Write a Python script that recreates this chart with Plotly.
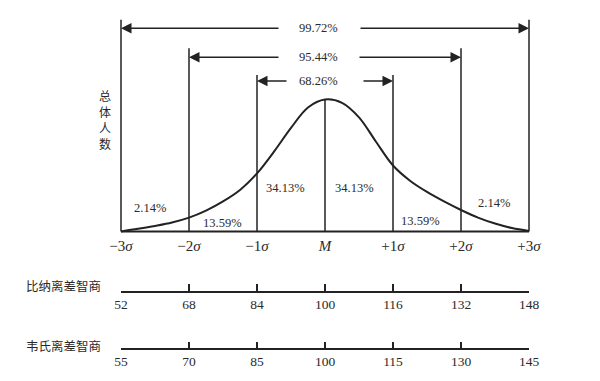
import plotly.graph_objects as go

# ---------------- data ----------------
sigma_ticks = [-3, -2, -1, 0, 1, 2, 3]
sigma_labels = ["−3<i>σ</i>", "−2<i>σ</i>", "−1<i>σ</i>", "<i>M</i>", "+1<i>σ</i>", "+2<i>σ</i>", "+3<i>σ</i>"]

# curve (x in σ, y = relative height, peak = 1)
curve_x = [-3.0, -2.75, -2.5, -2.25, -2.0, -1.75, -1.5, -1.25, -1.0, -0.75, -0.5, -0.25, 0.0,
           0.25, 0.5, 0.75, 1.0, 1.25, 1.5, 1.75, 2.0, 2.25, 2.5, 2.75, 3.0]
curve_y = [0.0, 0.02, 0.042, 0.068, 0.105, 0.158, 0.228, 0.315, 0.44, 0.605, 0.785, 0.94, 1.0,
           0.975, 0.865, 0.68, 0.50, 0.385, 0.30, 0.228, 0.163, 0.105, 0.06, 0.026, 0.004]

bracket_levels = [1, 2, 3]
bracket_labels = ["68.26%", "95.44%", "99.72%"]
bracket_line_top = [1.186, 1.388, 1.605]
bracket_arrow_y = [1.140, 1.320, 1.539]

area_labels = ["2.14%", "13.59%", "34.13%", "34.13%", "13.59%", "2.14%"]
area_label_x = [-2.57, -1.507, -0.574, 0.441, 1.41, 2.48]
area_label_y = [0.178, 0.062, 0.327, 0.327, 0.082, 0.218]

binet_name = "比纳离差智商"
binet_ticks = [52, 68, 84, 100, 116, 132, 148]
wechsler_name = "韦氏离差智商"
wechsler_ticks = [55, 70, 85, 100, 115, 130, 145]
y_title = "总体人数"

# ---------------- layout constants ----------------
W, H = 600, 381
PX_PER_SIGMA = 68.0
CENTER_PX = 325.0
BASE_PX = 231.5
UNIT_PX = 132.0
INK = "#222222"
TXT = "#2a2a2a"
SERIF = "Liberation Serif, Times New Roman, serif"
CJK = "Noto Sans CJK SC"

def px_to_sigma(px):
    return (px - CENTER_PX) / PX_PER_SIGMA

fig = go.Figure()

# baseline
fig.add_trace(go.Scatter(x=[sigma_ticks[0], sigma_ticks[-1]], y=[0, 0], mode="lines",
                         line=dict(color=INK, width=1.8), hoverinfo="skip", showlegend=False))

# vertical lines
vx, vy = [], []
for lvl, top in zip(bracket_levels, bracket_line_top):
    for s in (-lvl, lvl):
        vx += [s, s, None]
        vy += [0, top, None]
vx += [0, 0, None]
vy += [0, max(curve_y), None]
fig.add_trace(go.Scatter(x=vx, y=vy, mode="lines", line=dict(color=INK, width=1.5),
                         hoverinfo="skip", showlegend=False))

# curve
fig.add_trace(go.Scatter(x=curve_x, y=curve_y, mode="lines",
                         line=dict(color=INK, width=2, shape="spline", smoothing=1.0),
                         hoverinfo="skip", showlegend=False))

# hidden traces for IQ axes
fig.add_trace(go.Scatter(x=binet_ticks, y=[0] * len(binet_ticks), xaxis="x2", yaxis="y",
                         mode="markers", marker=dict(opacity=0), hoverinfo="skip", showlegend=False))
fig.add_trace(go.Scatter(x=wechsler_ticks, y=[0] * len(wechsler_ticks), xaxis="x3", yaxis="y",
                         mode="markers", marker=dict(opacity=0), hoverinfo="skip", showlegend=False))

annotations = []
label_center = px_to_sigma(318)
gap_half = {1: (30, 44), 2: (38, 40), 3: (38, 41)}
for lvl, lab, ay in zip(bracket_levels, bracket_labels, bracket_arrow_y):
    gl, gr = gap_half[lvl]
    left_tail = px_to_sigma(318 - gl)
    right_tail = px_to_sigma(318 + gr)
    annotations.append(dict(x=-lvl, y=ay, ax=left_tail, ay=ay, axref="x", ayref="y",
                            xref="x", yref="y", text="", showarrow=True, arrowhead=2,
                            arrowsize=1.4, arrowwidth=1.5, arrowcolor=INK, standoff=0))
    annotations.append(dict(x=lvl, y=ay, ax=right_tail, ay=ay, axref="x", ayref="y",
                            xref="x", yref="y", text="", showarrow=True, arrowhead=2,
                            arrowsize=1.4, arrowwidth=1.5, arrowcolor=INK, standoff=0))
    annotations.append(dict(x=label_center, y=ay, xref="x", yref="y", text=lab, showarrow=False,
                            font=dict(family=SERIF, size=12.5, color=TXT)))

for lab, x, y in zip(area_labels, area_label_x, area_label_y):
    annotations.append(dict(x=x, y=y, xref="x", yref="y", text=lab, showarrow=False,
                            font=dict(family=SERIF, size=12.5, color=TXT)))

# vertical axis title, one character per row
for i, ch in enumerate(y_title):
    annotations.append(dict(x=105 / W, y=(H - (95 + 16.2 * i)) / H, xref="paper", yref="paper",
                            xanchor="center", yanchor="middle", text=ch, showarrow=False,
                            font=dict(family=CJK, size=12, color=TXT)))
annotations.append(dict(x=24 / W, y=(H - 285) / H, xref="paper", yref="paper", xanchor="left",
                        yanchor="middle", text=binet_name, showarrow=False,
                        font=dict(family=CJK, size=12.5, color=TXT)))
annotations.append(dict(x=24 / W, y=(H - 345) / H, xref="paper", yref="paper", xanchor="left",
                        yanchor="middle", text=wechsler_name, showarrow=False,
                        font=dict(family=CJK, size=12.5, color=TXT)))

dom = [121 / W, 529 / W]
iq_axis_common = dict(domain=dom, anchor="free", showgrid=False, zeroline=False, showline=True,
                      linecolor=INK, linewidth=1.5, ticks="inside", ticklen=7, tickwidth=1.5,
                      tickcolor=INK, tickfont=dict(family=SERIF, size=13.5, color=TXT),
                      fixedrange=True, automargin=False)

fig.update_layout(
    width=W, height=H, margin=dict(l=0, r=0, t=0, b=0, pad=0),
    paper_bgcolor="white", plot_bgcolor="rgba(0,0,0,0)",
    showlegend=False,
    xaxis=dict(range=[px_to_sigma(0), px_to_sigma(W)], domain=[0, 1], anchor="free",
               position=(H - BASE_PX) / H, showgrid=False, zeroline=False, showline=False,
               ticks="", tickvals=sigma_ticks, ticktext=sigma_labels, ticklabelstandoff=3,
               tickfont=dict(family=SERIF, size=15, color=TXT), fixedrange=True,
               automargin=False),
    yaxis=dict(range=[(BASE_PX - H) / UNIT_PX, BASE_PX / UNIT_PX], domain=[0, 1],
               visible=False, fixedrange=True, automargin=False),
    xaxis2=dict(range=[binet_ticks[0], binet_ticks[-1]], tickvals=binet_ticks,
                position=(H - 291.7) / H, **iq_axis_common),
    xaxis3=dict(range=[wechsler_ticks[0], wechsler_ticks[-1]], tickvals=wechsler_ticks,
                position=(H - 349.3) / H, **iq_axis_common),
    annotations=annotations,
)

fig.write_html("out.html", config={"displayModeBar": False},
               post_script="document.body.style.margin='0';")
